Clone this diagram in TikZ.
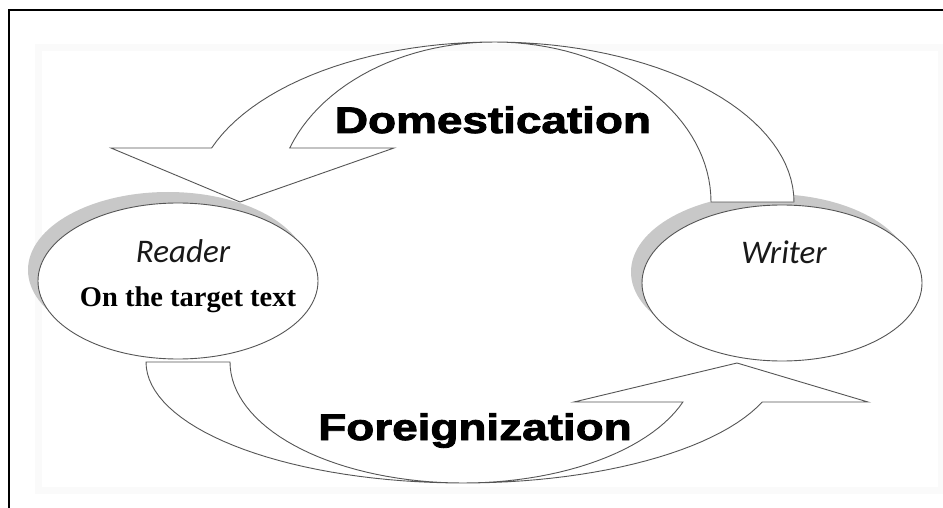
\documentclass[tikz,border=0pt]{standalone}
\usepackage{fontspec}
\setmainfont{Liberation Serif}
\newfontfamily\headfont[BoldFeatures={FakeBold=2.2}]{Liberation Sans}
\newfontfamily\calfont{Carlito}
\usetikzlibrary{shapes.geometric}
\definecolor{edge}{HTML}{555555}
\definecolor{shade}{HTML}{C8C8C8}
\tikzset{
  bubble/.style={ellipse, draw=edge, line width=0.9pt, fill=white, minimum width=280pt, minimum height=156pt, inner sep=0pt},
  bubbleshadow/.style={ellipse, fill=shade, minimum width=280pt, minimum height=156pt, inner sep=0pt},
  bigarrow/.style={draw=edge, line width=0.9pt, fill=white, line join=miter},
  headlabel/.style={font=\headfont\bfseries\fontsize{37}{37}\selectfont, inner sep=0pt, anchor=base, xscale=1.24},
  whoname/.style={font=\calfont\itshape\fontsize{33}{33}\selectfont, inner sep=0pt, anchor=base, text=black!90},
  notelabel/.style={font=\bfseries\fontsize{28.5}{28.5}\selectfont, inner sep=0pt, anchor=base}
}
\begin{document}
\begin{tikzpicture}[x=1pt, y=-1pt]
\useasboundingbox (0,0) rectangle (943,508);
\fill[white] (0,0) rectangle (943,508);
% faint panel
\draw[black!2, line width=7pt] (38,48) rectangle (941,490);
% frame
\draw[black, line width=1.8pt] (9,508) -- (9,10) -- (943,10);
% shadows
\node[bubbleshadow] (readershadow) at (168,270) {};
\node[bubbleshadow] (writershadow) at (771,272) {};
% Domestication arrow
\path[bigarrow] (240,202) -- (394,148)
  -- plot[domain=160.28:0, samples=60] ({494+217*cos(\x)}, {202-160*sin(\x)})
  -- plot[domain=0:160.28, samples=60] ({494+300*cos(\x)}, {202-160*sin(\x)})
  -- (111,148) -- cycle;
% Foreignization arrow
\path[bigarrow] (737,363) -- (868,402)
  -- plot[domain=19.3:180, samples=60] ({463+317*cos(\x)}, {362+121*sin(\x)})
  -- plot[domain=180:19.3, samples=60] ({463+233*cos(\x)}, {362+121*sin(\x)})
  -- (574,402) -- cycle;
% ellipses
\node[bubble] (reader) at (178,281) {};
\node[bubble] (writer) at (782,283) {};
% texts
\node[headlabel] (dom) at (493,133) {Domestication};
\node[headlabel] (foreign) at (475,440) {Foreignization};
\node[whoname] (readername) at (183,262) {Reader};
\node[whoname] (writername) at (784,263) {Writer};
\node[notelabel] (target) at (188,306) {On the target text};
\end{tikzpicture}
\end{document}
